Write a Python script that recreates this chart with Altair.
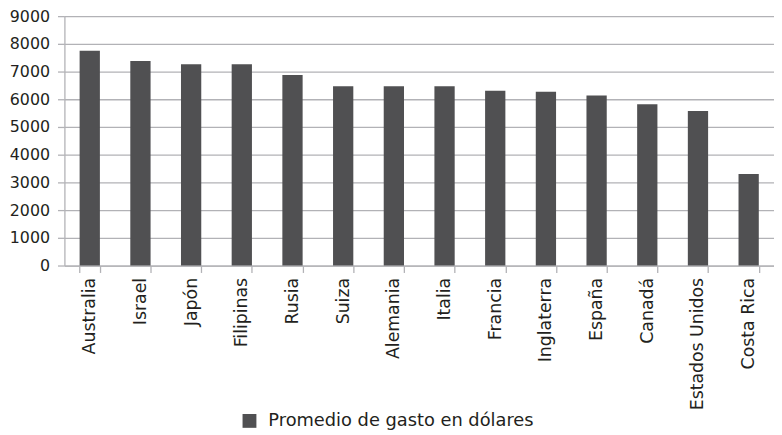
import altair as alt
import pandas as pd

countries = ["Australia", "Israel", "Japón", "Filipinas", "Rusia", "Suiza", "Alemania",
             "Italia", "Francia", "Inglaterra", "España", "Canadá", "Estados Unidos", "Costa Rica"]
values = [7750, 7380, 7260, 7260, 6880, 6470, 6470, 6470, 6310, 6270, 6140, 5820, 5580, 3300]
series_name = "Promedio de gasto en dólares"
y_ticks = [0, 1000, 2000, 3000, 4000, 5000, 6000, 7000, 8000, 9000]

df = pd.DataFrame({"pais": countries, "valor": values, "serie": [series_name] * len(countries)})

GRID = "#b2b2b6"
TEXT = "#231f20"
FONT = "DejaVu Sans"

chart = alt.Chart(df).mark_bar().encode(
    x=alt.X("pais:N", sort=countries, title=None,
            scale=alt.Scale(paddingInner=0.6, paddingOuter=0.3),
            axis=alt.Axis(labelAngle=270, labelFont=FONT, labelFontSize=17.5, labelColor=TEXT,
                          tickBand="extent", tickSize=7, tickColor=GRID, tickWidth=1.3,
                          domainColor=GRID, domainWidth=1.3, labelPadding=5, grid=False,
                          labelLimit=300)),
    y=alt.Y("valor:Q", title=None,
            scale=alt.Scale(domain=[0, 9000], nice=False),
            axis=alt.Axis(values=y_ticks, format="d", labelFont=FONT, labelFontSize=16, labelColor=TEXT,
                          tickSize=7, tickColor=GRID, tickWidth=1.3, domainColor=GRID, domainWidth=1.3,
                          gridColor=GRID, gridWidth=1.3, labelPadding=8)),
    color=alt.Color("serie:N", scale=alt.Scale(domain=[series_name], range=["#505052"]),
                    legend=alt.Legend(orient="none", legendX=178, legendY=400, title=None,
                                      symbolType="square", symbolSize=196, symbolStrokeWidth=0,
                                      labelFont=FONT, labelFontSize=18, labelColor=TEXT,
                                      labelOffset=10, padding=0, labelLimit=500)),
).properties(
    width=717, height=252,
    autosize=alt.AutoSizeParams(type="none"),
    padding={"left": 57, "top": 6, "right": 0, "bottom": 166},
).configure_view(strokeWidth=0)

chart.save("out.html", embed_options={"renderer": "svg", "actions": False})
